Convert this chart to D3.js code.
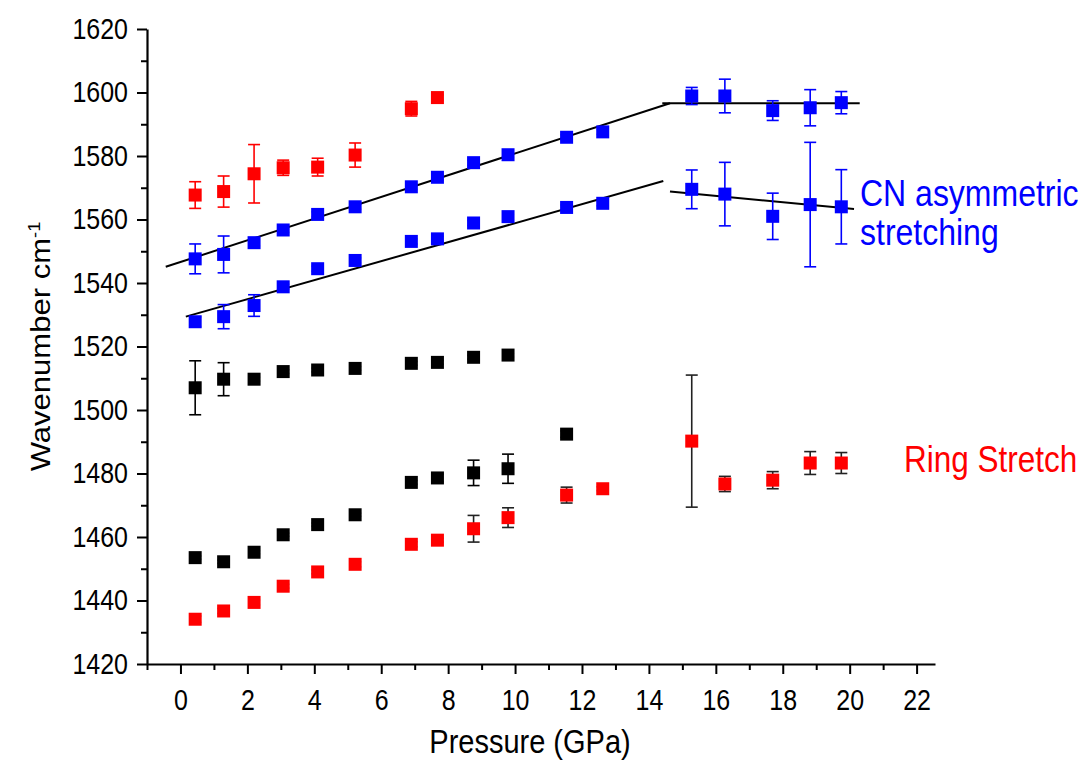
<!DOCTYPE html>
<html>
<head>
<meta charset="utf-8">
<script src="https://cdn.jsdelivr.net/npm/d3@7"></script>
<style>
  html, body { margin: 0; padding: 0; background: #fff; }
  svg { display: block; }
  text { font-family: Arial, "Liberation Sans", sans-serif; }
</style>
</head>
<body>
<svg id="chart" width="1088" height="762"></svg>
<script>
// Pressure points (GPa)
const pressure = [0.44, 1.29, 2.2, 3.07, 4.1, 5.22, 6.9, 7.68, 8.76, 9.79, 11.54, 12.62, 15.28, 16.27, 17.70, 18.82, 19.75];

// CN asymmetric stretching, upper branch (blue)
const cnUpper    = [1547.6, 1549.0, 1552.7, 1556.7, 1561.6, 1564.0, 1570.3, 1573.3, 1577.9, 1580.4, 1585.9, 1587.6, 1598.9, 1598.9, 1594.3, 1595.2, 1596.8];
const cnUpperErr = [4.7, 5.8, 1.0, 0.8, 0.8, 0.8, 0.8, 0.8, 0.8, 0.8, 0.8, 0.8, 2.7, 5.3, 3.1, 5.7, 3.5];

// CN asymmetric stretching, lower branch (blue)
const cnLower    = [1527.8, 1529.4, 1532.9, 1538.8, 1544.5, 1547.1, 1553.1, 1553.9, 1558.9, 1560.9, 1563.8, 1565.1, 1569.5, 1568.0, 1561.0, 1564.7, 1564.0];
const cnLowerErr = [1.5, 3.8, 3.4, 0.8, 0.8, 0.8, 0.8, 0.8, 0.8, 0.8, 0.8, 0.8, 6.1, 10.0, 7.3, 19.6, 11.7];

// Upper red band (low pressure only)
const redUpper    = [1567.7, 1568.8, 1574.4, 1576.3, 1576.5, 1580.3, 1594.9, 1598.4];
const redUpperErr = [4.2, 4.9, 9.2, 2.4, 2.8, 3.8, 2.3, 0.8];

// Black band near 1510 cm-1
const blackUpper    = [1507.0, 1509.7, 1509.7, 1512.1, 1512.6, 1513.1, 1514.7, 1515.0, 1516.6, 1517.3];
const blackUpperErr = [8.5, 5.2, 0.6, 0.6, 0.6, 0.6, 0.6, 0.6, 0.6, 0.6];

// Black band near 1460-1490 cm-1
const blackLower    = [1453.5, 1452.2, 1455.2, 1460.7, 1463.9, 1467.0, 1477.2, 1478.6, 1480.2, 1481.5, 1492.4];
const blackLowerErr = [0.5, 0.5, 0.5, 0.5, 0.5, 0.5, 0.6, 1.2, 4.0, 4.6, 1.0];

// Ring stretch (red)
const ringStretch    = [1434.1, 1436.7, 1439.4, 1444.5, 1449.0, 1451.4, 1457.7, 1459.0, 1462.6, 1466.1, 1473.2, 1475.2, 1490.2, 1476.7, 1477.9, 1483.3, 1483.3];
const ringStretchErr = [1.0, 0.8, 0.8, 0.6, 0.6, 0.8, 0.8, 0.6, 4.2, 3.1, 2.5, 0.6, 20.8, 2.4, 2.7, 3.6, 3.3];

// Linear fits: [pressure, wavenumber] end points
const fitUpperLow  = [[-0.44, 1545.1], [14.63, 1596.6]];
const fitUpperHigh = [[14.40, 1596.6], [20.30, 1596.6]];
const fitLowerLow  = [[0.16, 1529.4], [14.43, 1572.1]];
const fitLowerHigh = [[14.63, 1568.8], [20.13, 1563.3]];

// Axis ticks
const xMajorTicks = [0, 2, 4, 6, 8, 10, 12, 14, 16, 18, 20, 22];
const xMinorTicks = [-1, 1, 3, 5, 7, 9, 11, 13, 15, 17, 19, 21];
const yMajorTicks = [1420, 1440, 1460, 1480, 1500, 1520, 1540, 1560, 1580, 1600, 1620];
const yMinorTicks = [1430, 1450, 1470, 1490, 1510, 1530, 1550, 1570, 1590, 1610];

// Text in this figure is drawn slightly taller than it is wide
const STRETCH = 1.17;

const svg = d3.select("#chart");

const x = d3.scaleLinear().domain([-1, 22.55]).range([147, 935]);
const y = d3.scaleLinear().domain([1420, 1620]).range([664, 29]);

// ---- Axes ----
const axisG = svg.append("g");

const xAxis = axisG.append("g")
  .attr("transform", `translate(0,${y(1420)})`)
  .call(d3.axisBottom(x).tickValues(xMajorTicks).tickSize(10).tickSizeOuter(0).tickPadding(15).tickFormat(d3.format("d")));
axisG.append("g")
  .attr("transform", `translate(0,${y(1420)})`)
  .call(d3.axisBottom(x).tickValues(xMinorTicks).tickSize(6).tickSizeOuter(0).tickFormat(""))
  .select(".domain").remove();

const yAxis = axisG.append("g")
  .attr("transform", `translate(${x(-1)},0)`)
  .call(d3.axisLeft(y).tickValues(yMajorTicks).tickSize(10).tickSizeOuter(0).tickPadding(9).tickFormat(d3.format("d")));
axisG.append("g")
  .attr("transform", `translate(${x(-1)},0)`)
  .call(d3.axisLeft(y).tickValues(yMinorTicks).tickSize(6).tickSizeOuter(0).tickFormat(""))
  .select(".domain").remove();

axisG.selectAll(".domain").attr("stroke", "#000").attr("stroke-width", 2.2);
axisG.selectAll(".tick line").attr("stroke", "#000").attr("stroke-width", 2);
axisG.selectAll(".tick text").attr("fill", "#000").style("font-size", "25px");

// stretch tick labels vertically about their anchor
xAxis.selectAll(".tick text").each(function () {
  const ty = +d3.select(this).attr("y");
  d3.select(this).attr("transform", `translate(0,${ty}) scale(1,${STRETCH}) translate(0,${-ty})`);
});
yAxis.selectAll(".tick text").attr("transform", `scale(1,${STRETCH})`);

// Axis titles
svg.append("text")
  .attr("transform", `translate(530,753) scale(1,${STRETCH})`)
  .attr("text-anchor", "middle")
  .style("font-size", "29px")
  .text("Pressure (GPa)");

const yTitle = svg.append("text")
  .attr("transform", `translate(50,${(y(1420) + y(1620)) / 2}) rotate(-90) scale(${STRETCH - 0.02},1)`)
  .attr("text-anchor", "middle")
  .style("font-size", "27px");
yTitle.append("tspan").text("Wavenumber cm");
yTitle.append("tspan").attr("dy", -10).style("font-size", "16px").text("-1");

// ---- Fit lines ----
const line = d3.line().x(d => x(d[0])).y(d => y(d[1]));
[fitUpperLow, fitUpperHigh, fitLowerLow, fitLowerHigh].forEach(seg => {
  svg.append("path").attr("d", line(seg))
    .attr("fill", "none").attr("stroke", "#000").attr("stroke-width", 2);
});

// ---- Series with error bars ----
function drawSeries(values, errors, fill, barColor) {
  const pts = values.map((v, i) => ({ p: pressure[i], v, e: errors[i] }));
  const g = svg.append("g");
  const cap = 6;
  const bars = g.selectAll("g.err").data(pts).join("g").attr("class", "err")
    .attr("stroke", barColor).attr("stroke-width", 1.6);
  bars.append("line")
    .attr("x1", d => x(d.p)).attr("x2", d => x(d.p))
    .attr("y1", d => y(d.v - d.e)).attr("y2", d => y(d.v + d.e));
  bars.append("line")
    .attr("x1", d => x(d.p) - cap).attr("x2", d => x(d.p) + cap)
    .attr("y1", d => y(d.v + d.e)).attr("y2", d => y(d.v + d.e));
  bars.append("line")
    .attr("x1", d => x(d.p) - cap).attr("x2", d => x(d.p) + cap)
    .attr("y1", d => y(d.v - d.e)).attr("y2", d => y(d.v - d.e));
  const s = 13;
  g.selectAll("rect").data(pts).join("rect")
    .attr("x", d => x(d.p) - s / 2).attr("y", d => y(d.v) - s / 2)
    .attr("width", s).attr("height", s)
    .attr("fill", fill);
}

drawSeries(blackUpper, blackUpperErr, "#000", "#000");
drawSeries(blackLower, blackLowerErr, "#000", "#000");
drawSeries(ringStretch, ringStretchErr, "#ff0000", "#222");
drawSeries(redUpper, redUpperErr, "#ff0000", "#ff0000");
drawSeries(cnUpper, cnUpperErr, "#0000ff", "#0000ff");
drawSeries(cnLower, cnLowerErr, "#0000ff", "#0000ff");

// ---- Annotations ----
function label(text, px, py, color, size) {
  svg.append("text")
    .attr("transform", `translate(${px},${py}) scale(1,${STRETCH})`)
    .attr("fill", color)
    .style("font-size", size + "px")
    .text(text);
}
label("CN asymmetric", 860, 206, "#0000ff", 32);
label("stretching", 860, 245, "#0000ff", 32);
label("Ring Stretch", 904, 472, "#ff0000", 31.5);
</script>
</body>
</html>
